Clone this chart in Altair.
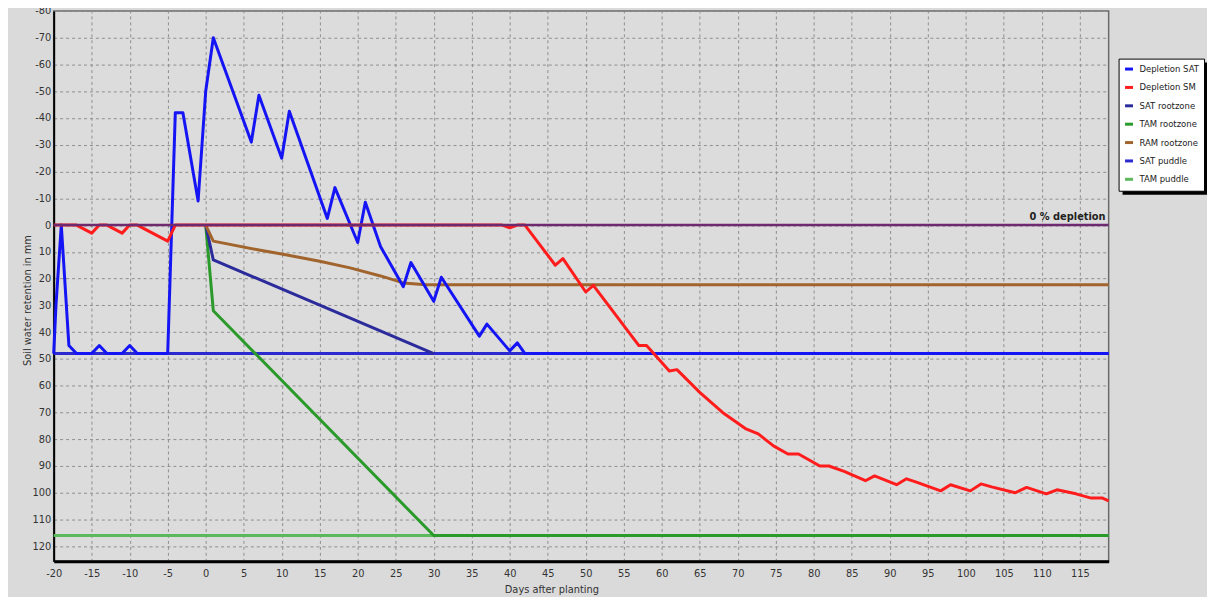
import altair as alt
import pandas as pd

# ---- data ----
sat_day = [-20, -19.7, -19, -18, -17, -15, -14, -13, -11, -10, -9, -5, -4, -3, -1, 0, 1, 6, 7, 10, 11, 16, 17, 20, 21, 23, 26, 27, 30, 31, 36, 37, 40, 41, 42, 118.8]
sat_val = [48, 30, 0, 45, 48, 48, 45, 48, 48, 45, 48, 48, -42, -42, -9, -50, -70, -31, -48.5, -25, -42.5, -2.5, -14, 6.5, -8.5, 8, 23, 14, 28.5, 19.5, 41.5, 37, 47, 44, 48, 48]

sm_day = [-20, -17, -15, -14, -13, -11, -10, -9, -5, -4, 39, 40, 41, 42, 46, 47, 50, 51, 57, 58, 61, 62, 65, 68, 71, 72.7, 74.7, 76.6, 78, 80.8, 82, 84, 86.8, 88, 90.9, 92.2, 93.5, 96.7, 98, 100.6, 102, 103.4, 106.5, 108, 110.6, 112, 114.5, 116.5, 118, 118.8]
sm_val = [0, 0, 3, 0, 0, 3, 0, 0, 6, 0, 0, 1, 0, 0, 15, 12.5, 25, 22.5, 45, 45, 54.5, 54, 62.5, 70, 76, 78, 82.5, 85.5, 85.5, 90, 90, 92, 95.5, 93.7, 97, 94.8, 96, 99.3, 97, 99.3, 96.7, 97.8, 100, 98, 100.4, 98.9, 100.4, 102, 102, 103]

satroot_day = [0, 1, 30]
satroot_val = [0, 13, 48]

tamroot_day = [0, 1, 30, 118.8]
tamroot_val = [0, 32, 116, 116]

ramroot_day = [0, 1, 7, 10, 15, 19, 23, 26, 29, 118.8]
ramroot_val = [0, 6, 9.3, 10.8, 13.5, 16, 19, 21.6, 22.3, 22.3]

satpud_day = [-20, 118.8]
satpud_val = [48, 48]

tampud_day = [-20, 118.8]
tampud_val = [116, 116]

zero_day = [-20, 118.8]
zero_val = [0, 0]

series_names = ["Depletion SAT", "Depletion SM", "SAT rootzone", "TAM rootzone",
                "RAM rootzone", "SAT puddle", "TAM puddle"]
series_colors = ["#1414f5", "#ff1c1c", "#2b2b9c", "#2a9a2a", "#a0642c", "#2a2ad0", "#5cb85c"]
series_widths = [3, 3, 2, 2, 2, 1, 1.5]

x_ticks = list(range(-20, 116, 5))
y_ticks = list(range(-80, 121, 10))

series_data = {
    "Depletion SAT": (sat_day, sat_val),
    "Depletion SM": (sm_day, sm_val),
    "SAT rootzone": (satroot_day, satroot_val),
    "TAM rootzone": (tamroot_day, tamroot_val),
    "RAM rootzone": (ramroot_day, ramroot_val),
    "SAT puddle": (satpud_day, satpud_val),
    "TAM puddle": (tampud_day, tampud_val),
}

rows = []
for name, (d, v) in series_data.items():
    for i, (a, b) in enumerate(zip(d, v)):
        rows.append({"series": name, "day": a, "value": b, "i": i})
df = pd.DataFrame(rows)

FONT = "Liberation Sans Narrow, DejaVu Sans Condensed, Arial Narrow, sans-serif"

xs = alt.Scale(domain=[-20, 118.8], nice=False, zero=False)
ys = alt.Scale(domain=[-80, 125.6], nice=False, zero=False, reverse=True)

legend_kw = dict(title=None, orient="none", legendX=1072, legendY=48,
                 fillColor="white", strokeColor="black", padding=5,
                 symbolType="stroke", symbolSize=64, labelFontSize=9.5,
                 labelFont=FONT, labelColor="#222", rowPadding=5.5,
                 labelOffset=5, symbolStrokeWidth=2.5, labelLimit=80)
color = alt.Color("series:N",
                  scale=alt.Scale(domain=series_names, range=series_colors),
                  legend=alt.Legend(**legend_kw))
width_enc = alt.StrokeWidth("series:N",
                            scale=alt.Scale(domain=series_names, range=series_widths),
                            legend=None)

x_enc = alt.X("day:Q", scale=xs,
              axis=alt.Axis(values=x_ticks, title="Days after planting", titleX=501, titleY=22,
                            labelExpr="'' + datum.value", labelOverlap=False,
                            labelSeparation=0, labelFlush=False))
y_enc = alt.Y("value:Q", scale=ys,
              axis=alt.Axis(values=y_ticks, title="Soil water retention in mm",
                            titleX=-26, titleY=291, titleBaseline="middle",
                            labelExpr="'' + datum.value", labelOverlap=False,
                            labelSeparation=0, labelFlush=False))

draw_order = ["TAM puddle", "SAT puddle", "TAM rootzone", "SAT rootzone", "RAM rootzone",
              "Depletion SAT", "Depletion SM"]

# legend drop shadow (decoration)
shadow = alt.Chart(pd.DataFrame({"k": [0]})).mark_rect(color="#000").encode(
    x=alt.value(1076), x2=alt.value(1161), y=alt.value(52), y2=alt.value(185))

layers = [shadow]
for name in draw_order:
    layers.append(
        alt.Chart(df).transform_filter(alt.datum.series == name)
        .mark_line(strokeJoin="round")
        .encode(x=x_enc, y=y_enc, color=color, strokeWidth=width_enc, order="i:Q")
    )

zero_df = pd.DataFrame({"day": zero_day, "value": zero_val})
zero_line = alt.Chart(zero_df).mark_line(color="#6e2a6e", strokeWidth=2.5).encode(
    x=x_enc, y=y_enc)

label_df = pd.DataFrame({"day": [118.4], "value": [0], "text": ["0 % depletion"]})
zero_text = alt.Chart(label_df).mark_text(align="right", baseline="bottom", dy=-3,
                                         fontSize=11, fontWeight="bold", font=FONT,
                                         color="#222").encode(
    x=x_enc, y=y_enc, text="text:N")

chart = alt.layer(*layers, zero_line, zero_text).properties(
    width=1062, height=554,
    autosize=alt.AutoSizeParams(type="none"),
    padding={"left": 46, "top": 1, "right": 99, "bottom": 34},
    background="#dadada",
).configure_view(
    fill="#dcdcdc", stroke="#6a6a6a", strokeWidth=1.5
).configure_axis(
    grid=True, gridDash=[3, 3], gridColor="#8e8e8e", gridWidth=1,
    labelFont=FONT, labelFontSize=11, labelColor="#333", labelOverlap=False,
    titleFont=FONT, titleFontSize=11, titleColor="#333", titleFontWeight="normal",
    ticks=False, domainColor="#000",
).configure_axisX(
    domainWidth=3, labelPadding=6,
).configure_axisY(
    domainWidth=2, labelPadding=3,
)

chart.save("out.html", embed_options={"renderer": "svg", "actions": False})
